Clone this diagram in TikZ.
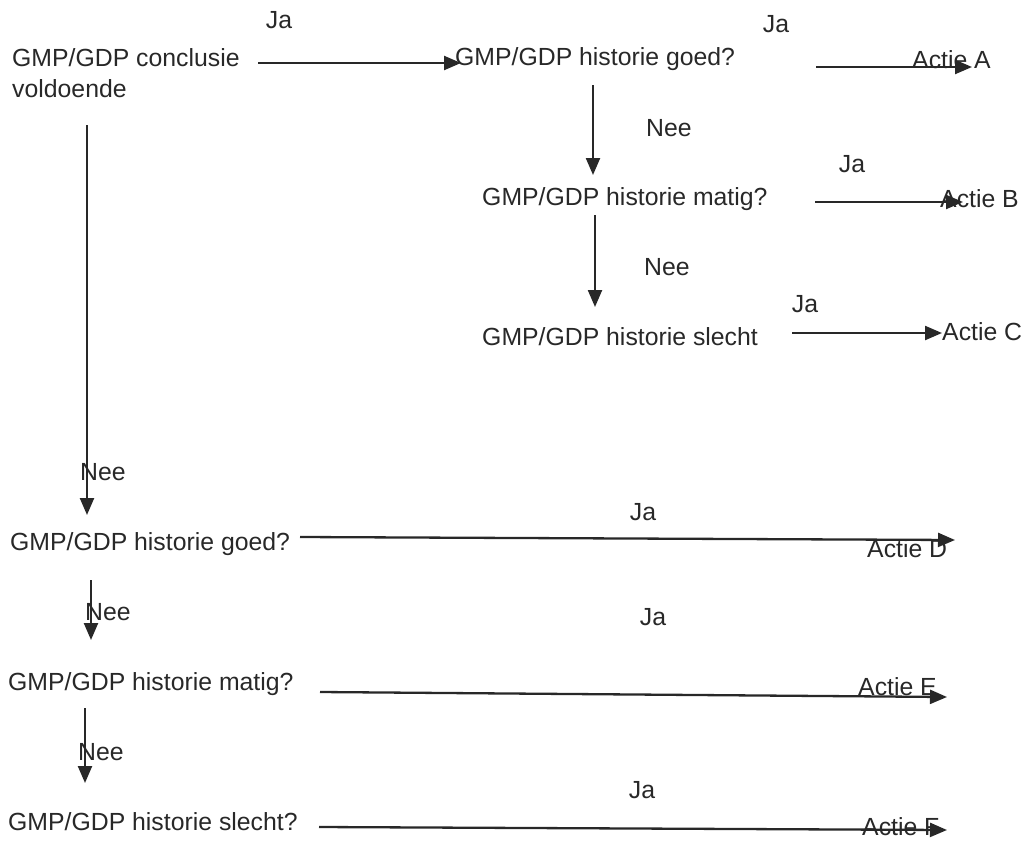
\documentclass[tikz,border=0pt]{standalone}
\usepackage{fontspec}
\setmainfont{Liberation Sans}
\usetikzlibrary{arrows.meta,calc}
\definecolor{ink}{HTML}{282828}
\begin{document}
\begin{tikzpicture}[x=1pt,y=-1pt,
  lbl/.style={inner sep=0pt, anchor=base west, text=ink, font=\fontsize{24.8}{31}\selectfont},
  jalbl/.style={lbl, anchor=base},
  arr/.style={draw=ink, line width=2.3pt, -{Triangle[length=17pt,width=14pt]}}]
\useasboundingbox (0,0) rectangle (1023,841);
% question / text nodes
\node[lbl] (c1) at (12,66) {GMP/GDP conclusie};
\node[lbl] (c2) at (12,97) {voldoende};
\node[lbl] (q1) at (455,65) {GMP/GDP historie goed?};
\node[lbl] (q2) at (482,205) {GMP/GDP historie matig?};
\node[lbl] (q3) at (482,345) {GMP/GDP historie slecht};
\node[lbl] (q4) at (10,550) {GMP/GDP historie goed?};
\node[lbl] (q5) at (8,690) {GMP/GDP historie matig?};
\node[lbl] (q6) at (8,830) {GMP/GDP historie slecht?};
% actions
\node[lbl] (aA) at (912,68) {Actie A};
\node[lbl] (aB) at (940,207) {Actie B};
\node[lbl] (aC) at (942,340) {Actie C};
\node[lbl] (aD) at (867,557) {Actie D};
\node[lbl] (aE) at (858,695) {Actie E};
\node[lbl] (aF) at (862,835) {Actie F};
% Ja labels
\node[jalbl] (j1) at (279,28) {Ja};
\node[jalbl] (j2) at (776,32) {Ja};
\node[jalbl] (j3) at (852,172) {Ja};
\node[jalbl] (j4) at (805,312) {Ja};
\node[jalbl] (j5) at (643,520) {Ja};
\node[jalbl] (j6) at (653,625) {Ja};
\node[jalbl] (j7) at (642,798) {Ja};
% Nee labels
\node[lbl] (n1) at (646,136) {Nee};
\node[lbl] (n2) at (644,275) {Nee};
\node[lbl] (n3) at (80,480) {Nee};
\node[lbl] (n4) at (85,620) {Nee};
\node[lbl] (n5) at (78,760) {Nee};
% connectors
\draw[arr] ($(c1.base west)+(246,-3)$) -- ($(q1.base west)+(6,-2)$);
\draw[arr] ($(q1.base west)+(361,2)$) -- ($(aA.base west)+(60,-1)$);
\draw[arr] ($(q1.base west)+(138,20)$) -- ($(q2.base west)+(111,-30)$);
\draw[arr] ($(q2.base west)+(333,-3)$) -- ($(aB.base west)+(23,-5)$);
\draw[arr] ($(q2.base west)+(113,10)$) -- ($(q3.base west)+(113,-38)$);
\draw[arr] ($(q3.base west)+(310,-12)$) -- ($(aC.base west)+(0,-7)$);
\draw[arr] ($(c2.base west)+(75,28)$) -- ($(q4.base west)+(77,-35)$);
\draw[arr] ($(q4.base west)+(290,-13)$) -- ($(aD.base west)+(88,-17)$);
\draw[arr] ($(q4.base west)+(81,30)$) -- ($(q5.base west)+(83,-50)$);
\draw[arr] ($(q5.base west)+(312,2)$) -- ($(aE.base west)+(89,2)$);
\draw[arr] ($(q5.base west)+(77,18)$) -- ($(q6.base west)+(77,-47)$);
\draw[arr] ($(q6.base west)+(311,-3)$) -- ($(aF.base west)+(85,-5)$);
\end{tikzpicture}
\end{document}
